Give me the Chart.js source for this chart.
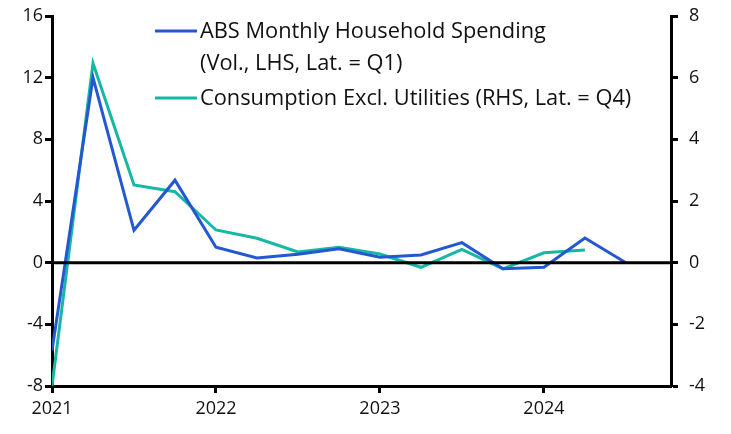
<!DOCTYPE html>
<html>
<head>
<meta charset="utf-8">
<script src="https://cdn.jsdelivr.net/npm/chart.js@4.4.0/dist/chart.umd.min.js"></script>
<style>
  html, body { margin: 0; padding: 0; background: #fff; }
  #wrap { width: 731px; height: 434px; position: relative; }
</style>
</head>
<body>
<div id="wrap"><canvas id="chart"></canvas></div>
<script>
// Quarterly data, x = quarters since 2021Q1
const quarters = [0, 1, 2, 3, 4, 5, 6, 7, 8, 9, 10, 11, 12, 13, 14];
const yearLabels = ["2021", "2022", "2023", "2024"];
const absSpending = [-5.7, 12.0, 2.1, 5.35, 1.0, 0.3, 0.55, 0.9, 0.35, 0.5, 1.3, -0.4, -0.3, 1.6, 0.0];
const consExclUtil = [-4.0, 6.47, 2.52, 2.3, 1.06, 0.79, 0.35, 0.5, 0.28, -0.15, 0.43, -0.2, 0.32, 0.41];
const legendLines = [
    ["ABS Monthly Household Spending", "(Vol., LHS, Lat. = Q1)"],
    ["Consumption Excl. Utilities (RHS, Lat. = Q4)"],
];
const leftTicks = [-8, -4, 0, 4, 8, 12, 16];
const rightTicks = [-4, -2, 0, 2, 4, 6, 8];

const BLUE = "#2358d1";
const TEAL = "#17b7a5";
const FONT = "'Open Sans', 'Noto Sans', sans-serif";

const toPoints = (vals) => vals.map((v, i) => ({ x: quarters[i], y: v }));

// zero line + legend
const decor = {
    id: "decor",
    afterDatasetsDraw(chart) {
        const { ctx, chartArea: a, scales } = chart;
        ctx.save();
        ctx.strokeStyle = "#000";
        ctx.lineWidth = 3;
        const y0 = scales.yL.getPixelForValue(0);
        ctx.beginPath();
        ctx.moveTo(a.left, y0);
        ctx.lineTo(a.right, y0);
        ctx.stroke();

        // legend
        ctx.font = "21.8px " + FONT;
        ctx.fillStyle = "#111";
        ctx.textBaseline = "alphabetic";
        const rows = [
            { color: BLUE, lines: legendLines[0], y: 38 },
            { color: TEAL, lines: legendLines[1], y: 105 },
        ];
        rows.forEach(r => {
            ctx.strokeStyle = r.color;
            ctx.lineWidth = 3;
            ctx.beginPath();
            ctx.moveTo(155, r.y - 7);
            ctx.lineTo(197, r.y - 7);
            ctx.stroke();
            r.lines.forEach((t, k) => ctx.fillText(t, 200, r.y + k * 32));
        });
        ctx.restore();
    },
};

const axisGrid = { display: true, drawOnChartArea: false, drawTicks: true, tickLength: 7, tickColor: "#000", tickWidth: 3 };
const fitY = (w) => (s) => { s.width = w; s.paddingTop = 0; s.paddingBottom = 0; };

new Chart(document.getElementById("chart"), {
    type: "line",
    data: {
        datasets: [
            {
                label: "ABS Monthly Household Spending",
                data: toPoints(absSpending),
                yAxisID: "yL",
                borderColor: BLUE,
                borderWidth: 3,
                pointRadius: 0,
                tension: 0,
            },
            {
                label: "Consumption Excl. Utilities",
                data: toPoints(consExclUtil),
                yAxisID: "yR",
                borderColor: TEAL,
                borderWidth: 3,
                pointRadius: 0,
                tension: 0,
            },
        ],
    },
    options: {
        responsive: true,
        maintainAspectRatio: false,
        animation: false,
        layout: { padding: { top: 16, left: 0, right: 0, bottom: 0 } },
        plugins: { legend: { display: false }, tooltip: { enabled: false } },
        scales: {
            x: {
                type: "linear",
                min: 0,
                max: 15.1,
                afterBuildTicks: (s) => { s.ticks = [0, 4, 8, 12].map(v => ({ value: v })); },
                afterFit: (s) => { s.height = 48; s.paddingLeft = 0; s.paddingRight = 0; },
                grid: axisGrid,
                border: { display: true, color: "#000", width: 3 },
                ticks: {
                    color: "#111",
                    font: { family: FONT, size: 18 },
                    padding: 5,
                    maxRotation: 0,
                    callback: (v) => yearLabels[v / 4],
                },
            },
            yL: {
                position: "left",
                min: -8,
                max: 16,
                afterBuildTicks: (s) => { s.ticks = leftTicks.map(v => ({ value: v })); },
                afterFit: fitY(52),
                grid: axisGrid,
                border: { display: true, color: "#000", width: 3 },
                ticks: { color: "#111", font: { family: FONT, size: 18 }, padding: 2 },
            },
            yR: {
                position: "right",
                min: -4,
                max: 8,
                afterBuildTicks: (s) => { s.ticks = rightTicks.map(v => ({ value: v })); },
                afterFit: fitY(60),
                grid: axisGrid,
                border: { display: true, color: "#000", width: 3 },
                ticks: { color: "#111", font: { family: FONT, size: 18 }, padding: 11 },
            },
        },
    },
    plugins: [decor],
});
</script>
</body>
</html>
